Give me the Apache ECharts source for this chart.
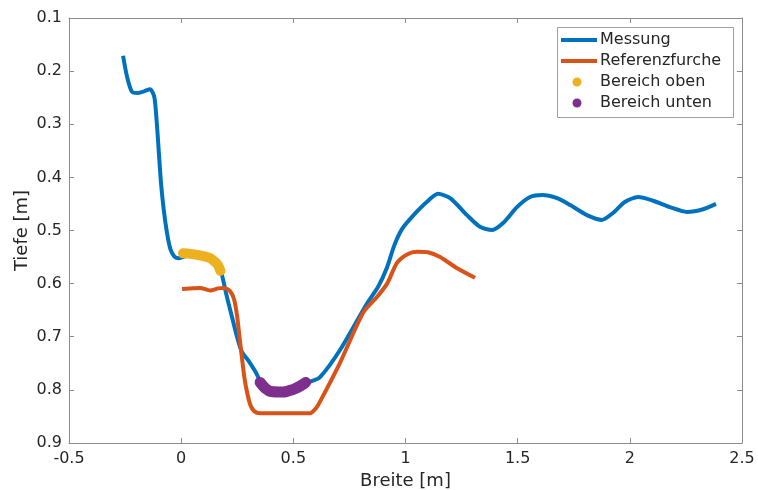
<!DOCTYPE html>
<html>
<head>
<meta charset="utf-8">
<script src="https://cdn.jsdelivr.net/npm/echarts@6/dist/echarts.min.js"></script>
<style>
  html, body { margin: 0; padding: 0; background: #fff; }
  #chart { width: 758px; height: 490px; }
</style>
</head>
<body>
<div id="chart"></div>
<script>
// Messung (blue), [Breite, Tiefe]
const messung = [
  [-0.259, 0.171], [-0.241, 0.211], [-0.219, 0.239], [-0.192, 0.241], [-0.165, 0.238],
  [-0.139, 0.234], [-0.120, 0.248], [-0.110, 0.290], [-0.100, 0.350], [-0.090, 0.410],
  [-0.078, 0.460], [-0.063, 0.505], [-0.048, 0.535],
  [-0.030, 0.549], [-0.010, 0.552], [0.008, 0.550], [0.05, 0.545], [0.10, 0.548],
  [0.14, 0.555], [0.173, 0.574], [0.182, 0.584], [0.204, 0.625], [0.228, 0.665],
  [0.249, 0.700], [0.271, 0.729], [0.298, 0.744], [0.330, 0.765], [0.352, 0.782],
  [0.396, 0.800], [0.454, 0.802], [0.516, 0.795], [0.574, 0.785], [0.619, 0.776],
  [0.708, 0.725], [0.829, 0.637], [0.878, 0.606], [0.918, 0.569], [0.950, 0.528],
  [0.985, 0.497], [1.034, 0.472], [1.096, 0.446], [1.145, 0.431], [1.199, 0.439],
  [1.274, 0.471], [1.332, 0.493], [1.386, 0.499], [1.435, 0.486], [1.497, 0.456],
  [1.555, 0.437], [1.609, 0.433], [1.676, 0.439], [1.734, 0.452], [1.809, 0.471],
  [1.876, 0.480], [1.925, 0.467], [1.979, 0.446], [2.037, 0.437], [2.104, 0.444],
  [2.179, 0.456], [2.255, 0.465], [2.327, 0.460], [2.384, 0.450]
]

// Referenzfurche (orange)
const referenz = [
  [0.004, 0.610], [0.04, 0.609], [0.084, 0.608], [0.129, 0.613], [0.165, 0.609],
  [0.190, 0.608], [0.218, 0.614], [0.236, 0.630], [0.249, 0.660], [0.260, 0.700],
  [0.271, 0.740], [0.283, 0.780], [0.294, 0.805], [0.308, 0.828], [0.325, 0.840],
  [0.352, 0.844], [0.45, 0.844], [0.574, 0.844], [0.600, 0.835], [0.619, 0.822],
  [0.708, 0.749], [0.811, 0.655], [0.873, 0.625], [0.918, 0.600], [0.962, 0.561],
  [1.007, 0.545], [1.051, 0.540], [1.100, 0.541], [1.154, 0.550], [1.230, 0.571],
  [1.310, 0.589]
]

const bereichOben = [
  [0.008, 0.543], [0.04, 0.544], [0.084, 0.547], [0.129, 0.552], [0.151, 0.559],
  [0.165, 0.566], [0.175, 0.576]
]

const bereichUnten = [
  [0.352, 0.786], [0.375, 0.797], [0.40, 0.803], [0.454, 0.804], [0.50, 0.799],
  [0.530, 0.793], [0.555, 0.786]
]

const xTicks = [-0.5, 0, 0.5, 1, 1.5, 2, 2.5]
const yTicks = [0.1, 0.2, 0.3, 0.4, 0.5, 0.6, 0.7, 0.8, 0.9]

const font = 'DejaVu Sans'
const axisColor = '#8c8c8c'
const textColor = '#262626'

// legend icons in a 36x9 box; the tiny corner squares fix the box size
const corners = 'M0,0h0.01v0.01h-0.01z M36,9h-0.01v-0.01h0.01z '
const lineIcon = 'path://' + corners + 'M0,2.5H36V6.5H0Z'
const dotIcon = 'path://' + corners + 'M20.5,4.5A4.5,4.5 0 1,1 11.5,4.5A4.5,4.5 0 1,1 20.5,4.5Z'

const chart = echarts.init(document.getElementById('chart'))

const xBase = {
  type: 'value',
  min: xTicks[0],
  max: xTicks[xTicks.length - 1],
  interval: 0.5,
  splitLine: { show: false },
  axisLine: { show: true, onZero: false, lineStyle: { color: axisColor, width: 1 } },
  axisTick: { show: true, inside: true, length: 5, lineStyle: { color: axisColor } },
}
const yBase = {
  type: 'value',
  min: yTicks[0],
  max: yTicks[yTicks.length - 1],
  interval: 0.1,
  inverse: true,
  splitLine: { show: false },
  axisLine: { show: true, onZero: false, lineStyle: { color: axisColor, width: 1 } },
  axisTick: { show: true, inside: true, length: 5, lineStyle: { color: axisColor } },
}

const option = {
  animation: false,
  backgroundColor: '#fff',
  textStyle: { fontFamily: font },
  grid: { left: 69, right: 16, top: 18, bottom: 47, containLabel: false, outerBoundsMode: 'none' },
  xAxis: [
    Object.assign({}, xBase, {
      position: 'bottom',
      name: 'Breite [m]',
      nameLocation: 'middle',
      nameGap: 29,
      nameMoveOverlap: false,
      nameTextStyle: { fontSize: 18, color: textColor, fontFamily: font },
      axisLabel: {
        fontSize: 16, color: textColor, fontFamily: font, margin: 8,
        formatter: v => String(Math.round(v * 10) / 10)
      }
    }),
    Object.assign({}, xBase, { position: 'top', axisLabel: { show: false } })
  ],
  yAxis: [
    Object.assign({}, yBase, {
      position: 'left',
      name: 'Tiefe [m]',
      nameLocation: 'middle',
      nameGap: 38,
      nameMoveOverlap: false,
      nameTextStyle: { fontSize: 18, color: textColor, fontFamily: font },
      axisLabel: {
        fontSize: 16, color: textColor, fontFamily: font, margin: 7,
        formatter: v => v.toFixed(1)
      }
    }),
    Object.assign({}, yBase, { position: 'right', axisLabel: { show: false } })
  ],
  legend: {
    left: 561, top: 31, orient: 'vertical', padding: 0,
    itemWidth: 36, itemHeight: 9, itemGap: 3,
    textStyle: { fontSize: 16, color: textColor, fontFamily: font, lineHeight: 18, padding: [0, 0, 0, -2] },
    data: [
      { name: 'Messung', icon: lineIcon },
      { name: 'Referenzfurche', icon: lineIcon },
      { name: 'Bereich oben', icon: dotIcon },
      { name: 'Bereich unten', icon: dotIcon }
    ]
  },
  graphic: [
    {
      type: 'rect',
      shape: { x: 557.5, y: 27.5, width: 176, height: 90 },
      style: { fill: null, stroke: '#a0a0a0', lineWidth: 1 },
      z: 100
    }
  ],
  series: [
    {
      name: 'Messung', type: 'line', data: messung,
      smooth: 0.25, showSymbol: false, symbol: 'none',
      lineStyle: { color: '#0072BD', width: 4 },
      itemStyle: { color: '#0072BD' }, z: 2
    },
    {
      name: 'Referenzfurche', type: 'line', data: referenz,
      smooth: 0.25, showSymbol: false, symbol: 'none',
      lineStyle: { color: '#D95319', width: 4 },
      itemStyle: { color: '#D95319' }, z: 3
    },
    {
      name: 'Bereich oben', type: 'line', data: bereichOben,
      smooth: 0.3, showSymbol: false, symbol: 'none',
      lineStyle: { color: '#EDB120', width: 10, cap: 'round', join: 'round' },
      itemStyle: { color: '#EDB120' }, z: 4
    },
    {
      name: 'Bereich unten', type: 'line', data: bereichUnten,
      smooth: 0.3, showSymbol: false, symbol: 'none',
      lineStyle: { color: '#7E2F8E', width: 11, cap: 'round', join: 'round' },
      itemStyle: { color: '#7E2F8E' }, z: 4
    }
  ]
}

chart.setOption(option)
</script>
</body>
</html>
